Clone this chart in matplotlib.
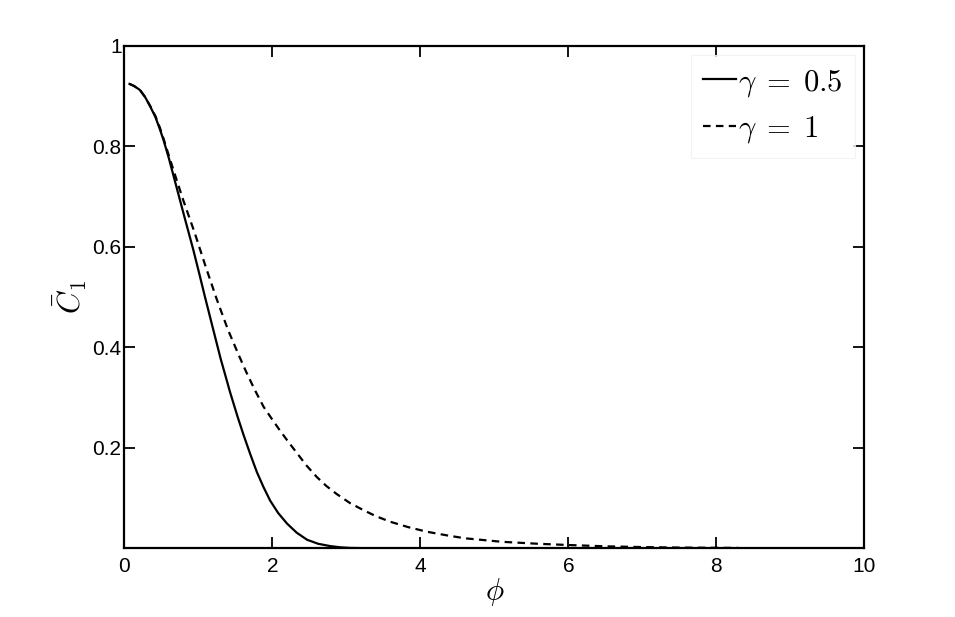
import matplotlib
matplotlib.use("Agg")
import matplotlib.pyplot as plt

plt.rcParams['mathtext.fontset'] = 'cm'
plt.rcParams['font.family'] = ['Liberation Sans', 'DejaVu Sans']

phi_g05 = [0.07, 0.13, 0.21, 0.28, 0.35, 0.42, 0.48, 0.53, 0.6, 0.71, 0.82, 0.93, 1.01,
           1.09, 1.2, 1.3, 1.43, 1.53, 1.61, 1.7, 1.79, 1.88, 1.97, 2.08, 2.2, 2.33,
           2.47, 2.62, 2.78, 2.92, 3.05, 3.4]
c_g05 = [0.924, 0.920, 0.912, 0.898, 0.879, 0.858, 0.834, 0.812, 0.777, 0.716, 0.655,
         0.595, 0.548, 0.50, 0.436, 0.378, 0.31, 0.262, 0.226, 0.188, 0.152, 0.122,
         0.095, 0.07, 0.049, 0.031, 0.017, 0.009, 0.0045, 0.002, 0.0008, 0.0]

phi_g1 = [0.07, 0.13, 0.21, 0.28, 0.35, 0.42, 0.48, 0.53, 0.6, 0.7, 0.8, 0.95, 1.1, 1.25,
          1.4, 1.55, 1.65, 1.76, 1.88, 2.0, 2.1, 2.22, 2.33, 2.46, 2.6, 2.73, 2.87, 3.05,
          3.23, 3.4, 3.59, 3.84, 4.09, 4.35, 4.6, 5.1, 5.6, 6.0, 6.5, 7.0, 7.5, 8.3]
c_g1 = [0.924, 0.920, 0.912, 0.898, 0.880, 0.860, 0.837, 0.815, 0.782, 0.736, 0.691,
        0.628, 0.560, 0.495, 0.435, 0.383, 0.350, 0.316, 0.282, 0.256, 0.235, 0.211,
        0.190, 0.165, 0.142, 0.124, 0.108, 0.090, 0.076, 0.064, 0.053, 0.042, 0.033,
        0.026, 0.020, 0.013, 0.009, 0.0066, 0.004, 0.0025, 0.0015, 0.0008]

labels = [r'$\gamma\;=\;0.5$', r'$\gamma\;=\;1$']
xticks = [0, 2, 4, 6, 8, 10]
yticks = [0.2, 0.4, 0.6, 0.8, 1.0]
ytick_labels = ['0.2', '0.4', '0.6', '0.8', '1']

fig = plt.figure(figsize=(9.55, 6.17), dpi=100)
ax = fig.add_axes([0.1302, 0.1113, 0.7749, 0.8146])

ax.plot(phi_g05, c_g05, color='black', lw=1.6, ls='-', label=labels[0])
ax.plot(phi_g1, c_g1, color='black', lw=1.6, ls=(0, (3.4, 2.4)), label=labels[1])

ax.set_xlim(0, 10)
ax.set_ylim(0, 1)
ax.set_xticks(xticks)
ax.set_xticklabels([str(t) for t in xticks])
ax.set_yticks(yticks)
ax.set_yticklabels(ytick_labels)
ax.tick_params(direction='in', top=True, right=True, length=8, width=1.3,
               labelsize=15)
ax.tick_params(axis='x', pad=6)
ax.tick_params(axis='y', pad=2)
for s in ax.spines.values():
    s.set_linewidth(1.6)

ax.set_xlabel(r'$\phi$', fontsize=22, labelpad=0)
ax.set_ylabel(r'$\bar{C}_1$', fontsize=22)
ax.yaxis.set_label_coords(-0.048, 0.5)

leg = ax.legend(loc='upper right', fontsize=22, frameon=True, fancybox=False,
                handlelength=1.08, handletextpad=0.06, labelspacing=0.5,
                borderaxespad=0.3, borderpad=0.4)
leg.get_frame().set_edgecolor('#f0f0f0')
leg.get_frame().set_linewidth(0.8)

fig.savefig('out.png', dpi=100)
